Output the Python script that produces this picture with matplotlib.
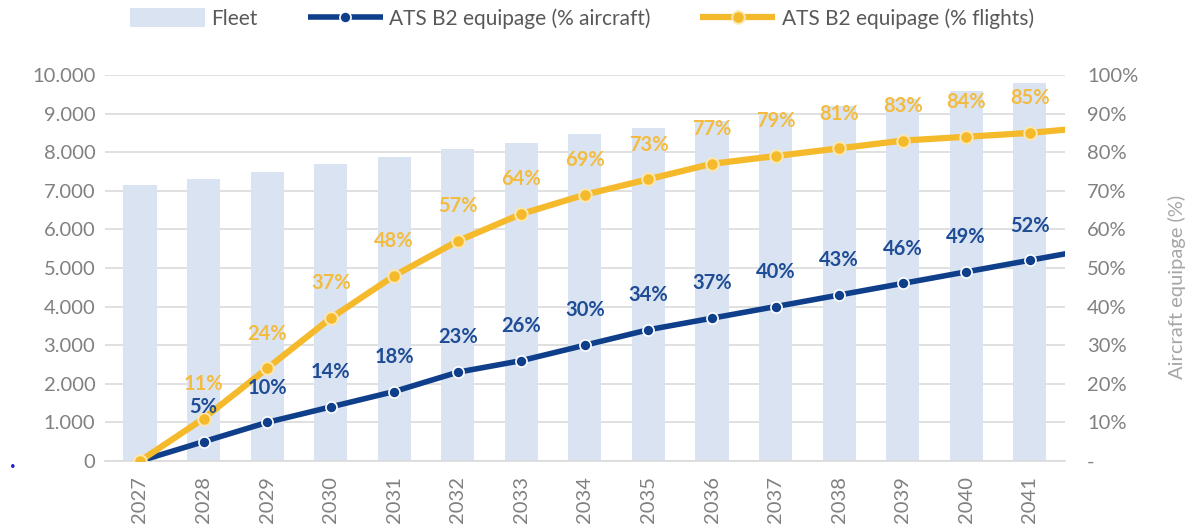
import matplotlib.pyplot as plt
import matplotlib.ticker as mticker
import numpy as np

# -----------------------------
# Data
# -----------------------------
years = [2027, 2028, 2029, 2030, 2031, 2032, 2033, 2034,
         2035, 2036, 2037, 2038, 2039, 2040, 2041]
fleet = [7150, 7310, 7480, 7700, 7870, 8080, 8240, 8460,
         8630, 8820, 9000, 9200, 9390, 9580, 9790]
pct_aircraft = [0, 5, 10, 14, 18, 23, 26, 30, 34, 37, 40, 43, 46, 49, 52]
pct_flights = [0, 11, 24, 37, 48, 57, 64, 69, 73, 77, 79, 81, 83, 84, 85]
# next year continues past the plot edge (line is cut at the frame)
next_aircraft = 55
next_flights = 86.5

# -----------------------------
# Styling
# -----------------------------
plt.rcParams['font.family'] = ['Lato', 'DejaVu Sans']
bar_col = "#DAE3F1"
blue = "#0F3F8A"
yellow = "#F5BA2C"
yellow_txt = "#F3BC3F"
blue_txt = "#1E4C95"
grey = "#808080"
grid_col = "#DADADA"

fig = plt.figure(figsize=(11.95, 5.32), dpi=100)
ax = fig.add_axes([0.0879, 0.1335, 0.8031, 0.7255])
ax2 = ax.twinx()

x = np.arange(len(years))
x_ext = np.arange(len(years) + 1)

ax.bar(x, fleet, width=0.52, color=bar_col, zorder=2, label="Fleet")
ax.set_ylim(0, 10000)
ax.set_xlim(-0.55, len(years) - 0.45)
ax.set_yticks(np.arange(0, 10001, 1000))
ax.yaxis.set_major_formatter(mticker.FuncFormatter(
    lambda v, p: "0" if v == 0 else f"{int(v):,}".replace(",", ".")))
ax.grid(axis="y", color=grid_col, linewidth=1.2, zorder=0)
ax.set_axisbelow(True)
ax.set_xticks(x)
ax.set_xticklabels(years, rotation=90)
ax.tick_params(axis="both", length=0, colors=grey, labelsize=14.5)
ax.tick_params(axis="y", pad=7)
ax.tick_params(axis="x", pad=11)
for s in ["top", "left", "right"]:
    ax.spines[s].set_visible(False)
ax.spines["bottom"].set_color(grid_col)
ax.spines["bottom"].set_linewidth(1.2)

ya = pct_aircraft + [next_aircraft]
yf = pct_flights + [next_flights]
ax2.plot(x_ext, ya, color=blue, lw=4, marker="o", ms=8, mfc=blue,
         mec="white", mew=1.2, zorder=3, label="ATS B2 equipage (% aircraft)",
         markevery=list(range(len(years))), solid_capstyle="butt")
ax2.plot(x_ext, yf, color=yellow, lw=4.5, marker="o", ms=9, mfc=yellow,
         mec="#FBE7B0", mew=1.4, zorder=4, label="ATS B2 equipage (% flights)",
         markevery=list(range(len(years))), solid_capstyle="butt")
ax2.set_ylim(0, 100)
ax2.set_yticks(np.arange(0, 101, 10))
ax2.yaxis.set_major_formatter(mticker.FuncFormatter(
    lambda v, p: "-" if v == 0 else f"{int(v)}%"))
ax2.tick_params(axis="y", length=0, colors=grey, labelsize=14.5, pad=16)
for s in ["top", "left", "right", "bottom"]:
    ax2.spines[s].set_visible(False)
ax2.set_ylabel("Aircraft equipage (%)", color="#A6A6A6", fontsize=14.5)
ax2.yaxis.set_label_coords(1.108, 0.45)

# data labels
for i in range(1, len(years)):
    ax2.annotate(f"{pct_flights[i]}%", (x[i], pct_flights[i]),
                 xytext=(0, 25), textcoords="offset points", ha="center",
                 va="center", color=yellow_txt, fontsize=14.5, fontweight="bold",
                 zorder=6, annotation_clip=False)
    ax2.annotate(f"{pct_aircraft[i]}%", (x[i], pct_aircraft[i]),
                 xytext=(0, 25), textcoords="offset points", ha="center",
                 va="center", color=blue_txt, fontsize=14.5, fontweight="bold",
                 zorder=6, annotation_clip=False)

# legend on top
h1, l1 = ax.get_legend_handles_labels()
h2, l2 = ax2.get_legend_handles_labels()
fig.legend(h1 + h2, l1 + l2, loc="center", bbox_to_anchor=(0.487, 0.965),
           ncol=3, frameon=False, fontsize=15, labelcolor="#595959",
           handlelength=3.6, handleheight=1.0, handletextpad=0.3,
           columnspacing=2.4)

# stray dot at the left edge of the screenshot
fig.text(0.011, 0.124, "\u2022", color="#2222CC", fontsize=7,
         ha="center", va="center")

fig.savefig("out.png", dpi=100)
